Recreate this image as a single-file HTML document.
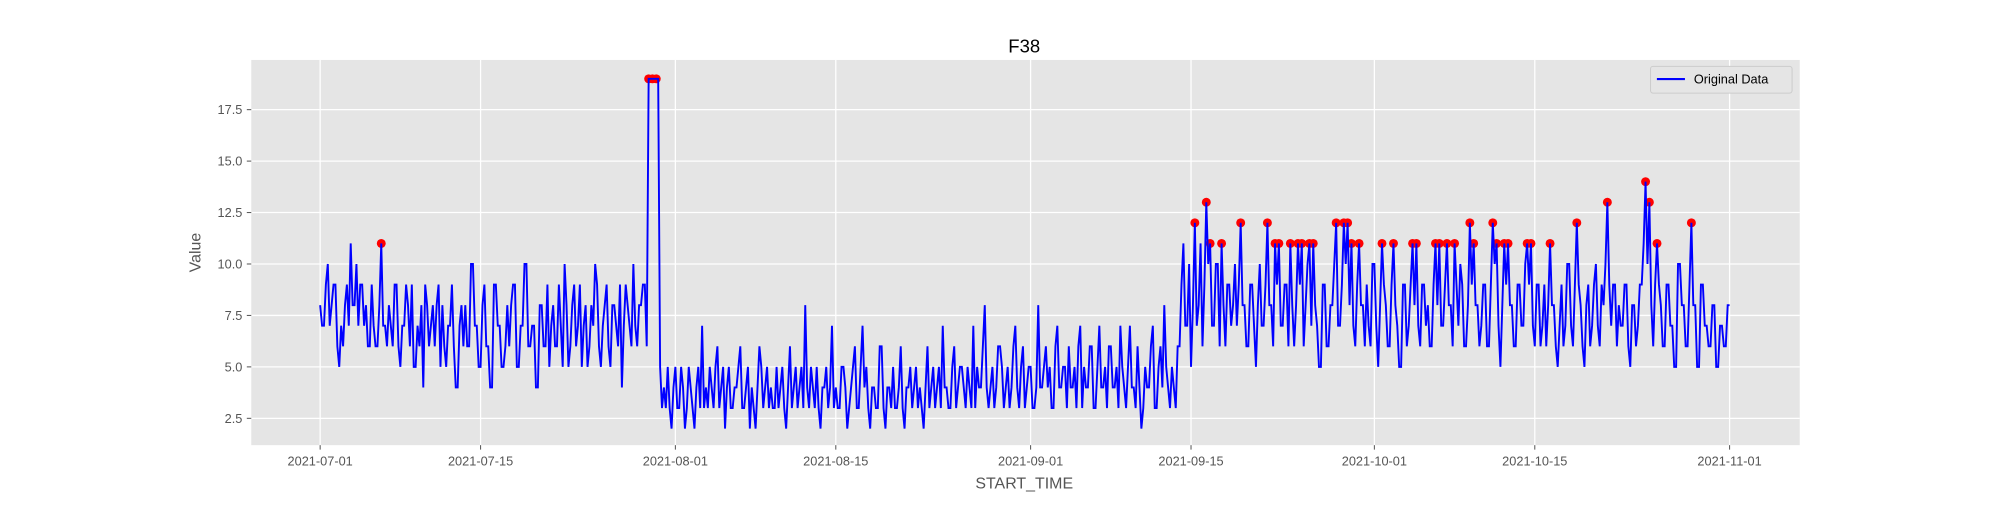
<!DOCTYPE html>
<html><head><meta charset="utf-8"><style>
html,body{margin:0;padding:0;background:#fff;}
svg text{font-family:"Liberation Sans","DejaVu Sans",sans-serif;}
</style></head><body>
<svg id="chart" width="2000" height="500" viewBox="0 0 1568 392" xmlns="http://www.w3.org/2000/svg">
<rect x="0" y="0" width="1568" height="392" fill="#fff"/>
<rect x="197" y="47" width="1214" height="302" fill="#E5E5E5"/>
<g id="grid"></g>
<g id="ticks"></g>
<g id="anoms"></g>
<g id="series"></g>
<text x="803" y="41" font-size="14.5" text-anchor="middle" fill="#000">F38</text>
<text x="803" y="383" font-size="12.5" text-anchor="middle" fill="#555">START_TIME</text>
<text x="157" y="198" font-size="12.5" text-anchor="middle" fill="#555" transform="rotate(-90 157 198)">Value</text>
<g>
<rect x="1294" y="52" width="111" height="21" fill="#E5E5E5" stroke="#ccc" stroke-width="0.8" rx="2"/>
<line x1="1299" y1="62" x2="1321" y2="62" stroke="#0000ff" stroke-width="1.6"/>
<text x="1328" y="65.5" font-size="10" fill="#000">Original Data</text>
</g>
</svg>
<script>
const values = [
8,7,7,9,10,7,8,9,9,6,5,7,6,8,9,7,11,8,8,10,7,9,9,7,8,6,6,9,7,6,6,8,11,7,7,6,8,7,6,9,9,6,5,7,7,9,8,6,9,5,5,7,6,8,4,9,8,6,7,8,
6,8,9,5,8,6,5,7,7,9,6,4,4,7,8,6,8,6,6,10,10,7,7,5,5,8,9,6,6,4,4,9,9,7,7,5,5,6,8,6,8,9,9,5,5,7,7,10,10,6,6,7,7,4,4,8,8,6,6,9,
5,7,8,6,6,9,7,5,10,8,5,6,8,9,6,7,9,5,7,8,5,6,8,7,10,9,6,5,7,8,9,6,5,8,8,7,6,9,4,7,9,8,7,6,10,7,6,8,8,9,9,6,19,19,19,19,19,19,5,3,
4,3,5,3,2,4,5,3,3,5,4,2,3,5,4,3,2,4,5,3,7,3,4,3,5,4,3,5,6,3,4,5,2,4,5,3,3,4,4,5,6,3,3,4,5,2,4,3,2,4,6,5,3,4,5,3,4,3,3,5,
3,4,5,3,2,4,6,3,4,5,3,4,5,3,8,4,3,5,4,3,5,3,2,4,4,5,3,4,7,3,4,3,3,5,5,4,2,3,4,5,6,3,3,5,7,4,5,3,2,4,4,3,3,6,6,3,2,4,4,3,
5,3,3,4,6,3,2,4,4,5,3,4,5,3,4,3,2,4,6,3,4,5,3,4,5,3,7,4,4,3,3,5,6,3,4,5,5,4,3,5,4,3,7,3,5,4,4,6,8,4,3,4,5,3,4,6,6,5,3,4,
5,3,4,6,7,4,3,5,6,3,4,5,5,3,3,4,8,4,4,5,6,4,5,3,3,6,7,4,4,5,5,3,6,4,4,5,3,6,7,3,5,4,4,6,6,3,3,5,7,4,4,5,3,6,6,4,4,5,3,7,
5,4,3,5,7,4,4,3,6,4,2,3,5,4,4,6,7,3,3,5,6,4,8,5,4,3,5,4,3,6,6,9,11,7,7,10,5,8,12,7,8,11,6,9,13,10,11,7,7,10,10,6,11,8,6,9,9,7,8,10,
7,9,12,8,8,6,6,9,9,7,5,8,10,7,7,9,12,8,8,6,11,9,11,7,7,9,9,6,11,8,6,8,11,9,11,6,8,10,11,7,11,8,7,5,5,9,9,6,6,8,8,10,12,7,7,9,12,10,12,8,
11,7,6,9,11,8,8,6,9,7,6,10,10,7,5,8,11,9,8,6,6,9,11,8,7,5,5,9,9,6,7,9,11,8,11,7,6,9,9,7,8,6,6,9,11,8,11,7,7,9,11,8,8,6,11,9,7,10,9,6,
6,8,12,9,11,8,8,6,7,9,9,6,6,9,12,10,11,7,5,8,11,9,11,8,8,6,6,9,9,7,7,10,11,9,11,7,6,9,9,6,7,9,6,8,11,8,8,6,5,7,9,6,7,10,10,7,6,9,12,9,
8,6,5,8,9,6,7,9,10,7,6,9,8,10,13,9,7,9,9,6,8,7,7,9,9,6,5,8,8,6,7,9,9,11,14,10,13,8,6,9,11,9,8,6,6,9,9,7,7,5,5,10,10,8,8,6,6,9,12,8,
8,5,5,9,9,7,7,6,6,8,8,5,5,7,7,6,6,8,8
];
const pointsPerDay = [6];
const anomalyIdx = [32,172,174,176,458,464,466,472,482,496,500,502,508,512,514,518,520,532,536,538,540,544,556,562,572,574,584,586,590,594,602,604,614,616,620,622,632,634,644,658,674,694,696,700,718];
const xTickDays = [0,14,31,45,62,76,92,106,123];
const xTickLabels = ["2021-07-01","2021-07-15","2021-08-01","2021-08-15","2021-09-01","2021-09-15","2021-10-01","2021-10-15","2021-11-01"];
const yTickValues = [2.5,5.0,7.5,10.0,12.5,15.0,17.5];

const NS="http://www.w3.org/2000/svg";
function xScale(day){return 251 + day*(1105/123);}
function yScale(v){return 368.3 - v*16.133;}
function mk(tag,attrs,parent){const e=document.createElementNS(NS,tag);for(const k in attrs)e.setAttribute(k,attrs[k]);parent.appendChild(e);return e;}
const grid=document.getElementById('grid'),ticks=document.getElementById('ticks');
xTickDays.forEach((d,i)=>{
  const x=xScale(d);
  const g=mk('line',{x1:x,x2:x,y1:47,y2:349,stroke:'#fff','stroke-width':1},grid);
  
  
  mk('line',{x1:x,x2:x,y1:349,y2:352.5,stroke:'#555','stroke-width':0.8},ticks);
  const t=mk('text',{x:x,y:365,'font-size':10,'text-anchor':'middle',fill:'#555'},ticks);
  t.textContent=xTickLabels[i];
  
  
});
yTickValues.forEach(v=>{
  const y=yScale(v);
  const g=mk('line',{x1:197,x2:1411,y1:y,y2:y,stroke:'#fff','stroke-width':1},grid);
  
  
  mk('line',{x1:193.5,x2:197,y1:y,y2:y,stroke:'#555','stroke-width':0.8},ticks);
  const t=mk('text',{x:190,y:y+3.5,'font-size':10,'text-anchor':'end',fill:'#555'},ticks);
  t.textContent=v.toFixed(1);
  
  
});
const ppd=pointsPerDay[0];
let d='';
values.forEach((v,i)=>{d+=(i?'L':'M')+xScale(i/ppd).toFixed(2)+','+yScale(v).toFixed(2);});
const an=document.getElementById('anoms');
anomalyIdx.forEach(i=>{
  const c=mk('circle',{cx:xScale(i/ppd),cy:yScale(values[i]),r:3.5,fill:'#ff0000'},an);
  
  
});
const line=mk('path',{d:d,fill:'none',stroke:'#0000ff','stroke-width':1.5},document.getElementById('series'));


</script>
</body></html>
